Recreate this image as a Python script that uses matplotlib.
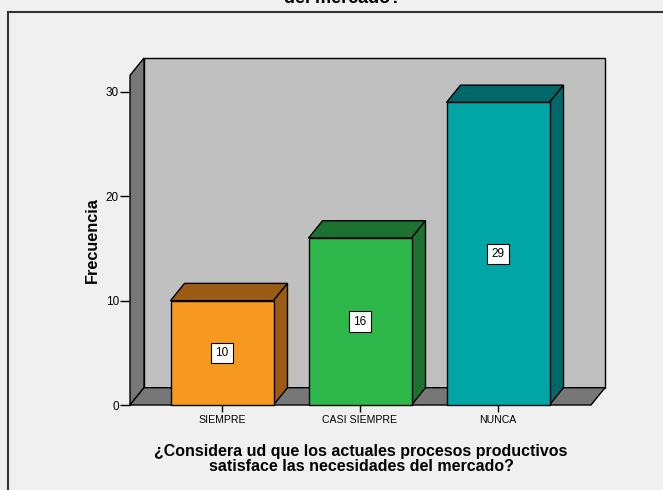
import matplotlib
matplotlib.use("Agg")
import matplotlib.pyplot as plt
from matplotlib.patches import Polygon, Rectangle

categories = ["SIEMPRE", "CASI SIEMPRE", "NUNCA"]
values = [10, 16, 29]
yticks = [0, 10, 20, 30]
front_colors = ["#F8991F", "#2FB84A", "#00A6A6"]
dark_colors = ["#9A5C15", "#1E7231", "#006868"]

title = "¿Considera ud que los actuales procesos productivos satisface las necesidades\ndel mercado?"
xlabel = "¿Considera ud que los actuales procesos productivos\nsatisface las necesidades del mercado?"
ylabel = "Frecuencia"

plt.rcParams['font.family'] = ['Liberation Sans', 'DejaVu Sans']

W, H = 663, 490
fig = plt.figure(figsize=(W / 100, H / 100), dpi=100, facecolor="#F0F0F0")

# outer frame
frame = Rectangle((8 / W, -0.1), 1.2, 1 - 12 / H + 0.1, transform=fig.transFigure,
                  facecolor="#F0F0F0", edgecolor="#333333", linewidth=1.5, zorder=-5)
fig.patches.append(frame)

# clipped title
fig.text(343 / W, 1 - 3 / H, title, ha="center", va="baseline", fontsize=13,
         fontweight="bold", linespacing=1.0)

x0, x1 = 130, 591
y0, y30 = 405, 92
px_per_cat = 138
xmin = (x0 - 222) / px_per_cat
xmax = (x1 - 222) / px_per_cat
ax = fig.add_axes([x0 / W, (H - y0) / H, (x1 - x0) / W, (y0 - y30) / H])
ax.set_zorder(2)
ax.set_xlim(xmin, xmax)
ax.set_ylim(0, 30)
ax.patch.set_visible(False)
for s in ax.spines.values():
    s.set_visible(False)

dx = 14 / px_per_cat
dy = 17.3 / ((y0 - y30) / 30)
wall_top = 31.6

kw = dict(edgecolor="black", linewidth=1.0, clip_on=False, joinstyle="miter")
# back wall
ax.add_patch(Polygon([(xmin + dx, dy), (xmax + dx, dy), (xmax + dx, wall_top + dy),
                      (xmin + dx, wall_top + dy)], facecolor="#C0C0C0", zorder=1, **kw))
# left wall
ax.add_patch(Polygon([(xmin, 0), (xmin, wall_top), (xmin + dx, wall_top + dy), (xmin + dx, dy)],
                     facecolor="#777777", zorder=2, **kw))
# floor
ax.add_patch(Polygon([(xmin, 0), (xmax, 0), (xmax + dx, dy), (xmin + dx, dy)],
                     facecolor="#777777", zorder=2, **kw))

bw = 103 / px_per_cat
for i, (v, fc, dc) in enumerate(zip(values, front_colors, dark_colors)):
    l, r = i - bw / 2, i + bw / 2
    ax.add_patch(Polygon([(l, v), (r, v), (r + dx, v + dy), (l + dx, v + dy)],
                         facecolor=dc, zorder=3, **kw))
    ax.add_patch(Polygon([(r, 0), (r + dx, dy), (r + dx, v + dy), (r, v)],
                         facecolor=dc, zorder=3, **kw))
    ax.add_patch(Rectangle((l, 0), bw, v, facecolor=fc, zorder=4, **kw))
    ax.text(i, v / 2, str(v), ha="center", va="center", fontsize=8.5, zorder=6,
            bbox=dict(boxstyle="square,pad=0.35", facecolor="white", edgecolor="black",
                      linewidth=0.8))

ax.set_xticks(range(len(categories)))
ax.set_xticklabels(categories, fontsize=7.6)
ax.set_yticks(yticks)
ax.set_yticklabels([str(t) for t in yticks], fontsize=8.5)
ax.tick_params(axis="x", length=5, width=1, pad=2, color="black")
ax.tick_params(axis="y", length=7, width=1, pad=1, color="black")

fig.text(361 / W, 1 - 459 / H, xlabel, ha="center", va="center", fontsize=11.5,
         fontweight="bold", linespacing=1.0)
fig.text(92 / W, 1 - 240 / H, ylabel, ha="center", va="center", rotation=90,
         fontsize=11.7, fontweight="bold")

fig.savefig("out.png", dpi=100, facecolor=fig.get_facecolor())
